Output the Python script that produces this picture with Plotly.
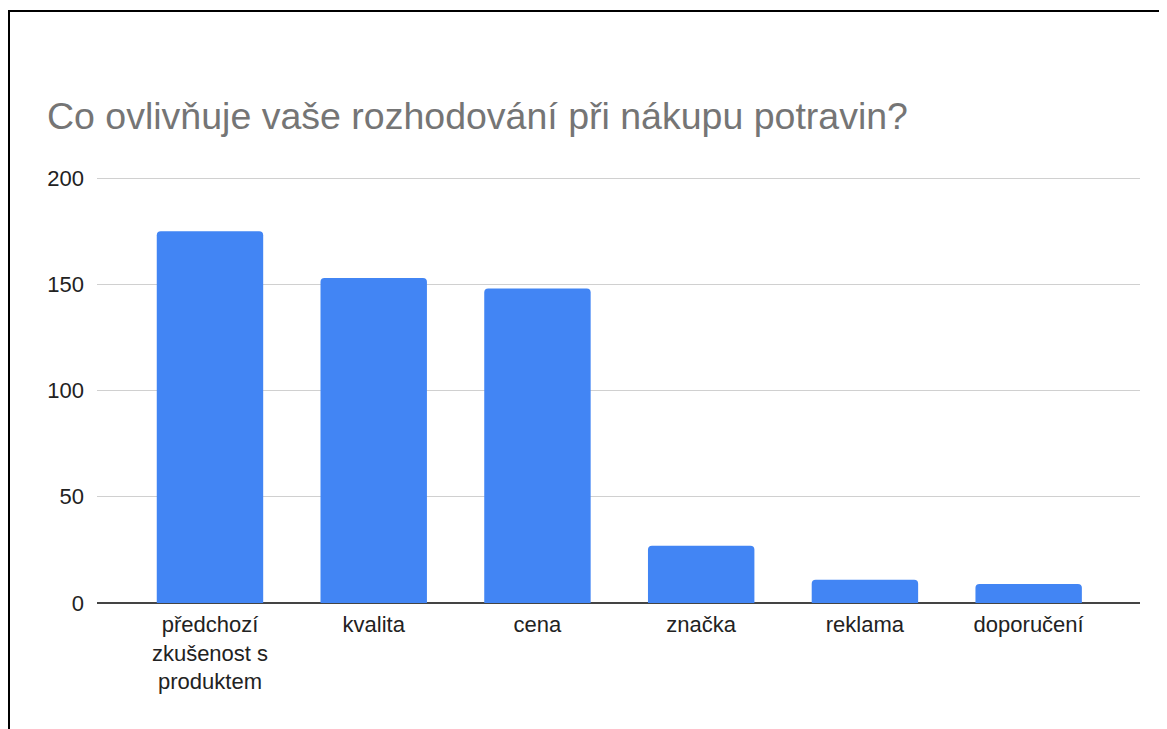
import plotly.graph_objects as go

categories = ["předchozí<br>zkušenost s<br>produktem", "kvalita", "cena", "značka", "reklama", "doporučení"]
values = [175, 153, 148, 27, 11, 9]
y_ticks = [0, 50, 100, 150, 200]
title_text = "Co ovlivňuje vaše rozhodování při nákupu potravin?"

# page body has an 8px margin, so the figure is laid out 8px smaller
W, H = 1159, 721
L, R, T, B = 89, 27, 168, 126
PW, PH = W - L - R, H - T - B

fig = go.Figure()
fig.add_trace(go.Bar(
    x=list(range(len(categories))),
    y=values,
    marker=dict(color="#4285F4", cornerradius=4, line=dict(width=0)),
    width=0.65,
    hoverinfo="x+y",
))

fig.update_layout(
    width=W, height=H,
    margin=dict(l=L, r=R, t=T, b=B, pad=0),
    paper_bgcolor="white",
    plot_bgcolor="white",
    showlegend=False,
    font=dict(family="Liberation Sans, Arial, sans-serif", size=22, color="#222222"),
    title=dict(
        text=title_text,
        font=dict(family="Liberation Sans, Arial, sans-serif", size=37.5, color="#757575"),
        xref="container", yref="container",
        x=39 / W, xanchor="left",
        y=1 - 108 / H, yanchor="middle",
    ),
    xaxis=dict(
        tickmode="array",
        tickvals=list(range(len(categories))),
        ticktext=categories,
        range=[-0.69, 5.68],
        showgrid=False,
        showline=False,
        zeroline=False,
        ticks="",
        ticklabelstandoff=6,
        tickfont=dict(size=22, color="#222222"),
        fixedrange=True,
    ),
    yaxis=dict(
        range=[0, 201],
        tickmode="array",
        tickvals=y_ticks,
        showgrid=True,
        gridcolor="#d0d0d0",
        gridwidth=1,
        zeroline=True,
        zerolinecolor="#444444",
        zerolinewidth=2,
        showline=False,
        ticks="",
        ticklabelstandoff=12,
        tickfont=dict(size=22, color="#222222"),
        fixedrange=True,
    ),
    shapes=[dict(
        type="rect", xref="paper", yref="paper",
        x0=(1 - L) / PW, x1=1.2,
        y0=-0.6, y1=(H - B - 3) / PH,
        line=dict(color="black", width=2),
        fillcolor="rgba(0,0,0,0)",
        layer="above",
    )],
)

fig.write_html("out.html")
